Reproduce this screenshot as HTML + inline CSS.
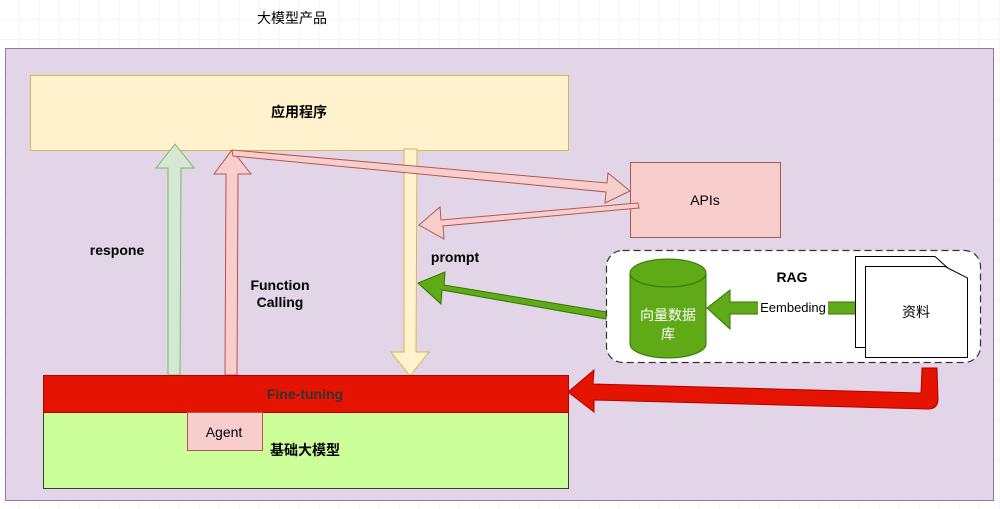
<!DOCTYPE html>
<html><head><meta charset="utf-8"><style>
body{margin:0;width:1000px;height:509px;overflow:hidden;background:#fff}
svg{display:block}
text{font-family:"Liberation Sans","Noto Sans CJK SC",sans-serif}
</style></head><body>
<svg width="1000" height="509" viewBox="0 0 1000 509">
<defs>
<pattern id="g" width="20" height="20" patternUnits="userSpaceOnUse"><path d="M20 0V20H0" fill="none" stroke="#eee" stroke-width="1"/></pattern>
</defs>
<rect width="1000" height="509" fill="url(#g)"/>
<text x="257" y="23" font-size="14">大模型产品</text>
<rect x="5.5" y="48.5" width="988" height="452" fill="#e1d5e7" stroke="#9673a6"/>
<rect x="30.5" y="75.5" width="538" height="75" fill="#fff2cc" stroke="#d6b656"/>
<text x="299" y="117" font-size="14" font-weight="bold" text-anchor="middle">应用程序</text>
<rect x="630.5" y="162.5" width="150" height="75" fill="#f8cecc" stroke="#b85450"/>
<text x="705" y="205" font-size="14" text-anchor="middle">APIs</text>
<polygon points="168,375 168,168 156,168 175,144 194,168 181,168 180,375" fill="#d5e8d4" stroke="#82b366"/>
<polygon points="225,375 226,174 214,174 232,150 251,174 238,174 237,375" fill="#f8cecc" stroke="#b85450"/>
<polygon points="404,149 417,149 416,352 429,352 410,376 391,352 404,352" fill="#fff2cc" stroke="#d6b656"/>
<polygon points="232,150 233,156 606,192 605,203 630,191 608,173 607,183" fill="#f8cecc" stroke="#b85450"/>
<polygon points="638,203 639,208 443,226 444,239 419,225 440,207 441,220" fill="#f8cecc" stroke="#b85450"/>
<polygon points="607,312 606,319 442,290 441,304 418,283 445,272 444,285" fill="#60a917" stroke="#2d7600"/>
<rect x="606.5" y="250.5" width="374" height="112" rx="16" fill="#fff" stroke="#333" stroke-dasharray="7,4" stroke-width="1.2"/>
<text x="792" y="282" font-size="14" font-weight="bold" text-anchor="middle">RAG</text>
<path d="M630,273 V344 A38,14 0 0 0 706,344 V273 A38,14 0 0 0 630,273 Z" fill="#60a917" stroke="#2d7600"/>
<path d="M630,273 A38,14 0 0 0 706,273" fill="none" stroke="#2d7600"/>
<text x="668" y="320" font-size="14" fill="#fff" text-anchor="middle">向量数据</text>
<text x="668" y="339" font-size="14" fill="#fff" text-anchor="middle">库</text>
<polygon points="856,302 856,314 730,314 730,329 707,308 730,290 730,302" fill="#60a917" stroke="#2d7600"/>
<rect x="758" y="299" width="70" height="16" fill="#fff"/>
<text x="793" y="312" font-size="13" text-anchor="middle">Eembeding</text>
<path d="M855.5,256.5 H935 L950,270 V347.5 H855.5 Z" fill="#fff" stroke="#000"/>
<path d="M865.5,266.5 H945 L967.5,278 V357.5 H865.5 Z" fill="#fff" stroke="#000"/>
<text x="916" y="317" font-size="14" text-anchor="middle">资料</text>
<path d="M922,368 L937,368 L938,399 Q938,409 928,409 L594,400 L594,412 L568,392 L594,370 L593,384 L921,393 Z" fill="#e51400" stroke="#b20000"/>
<rect x="43.5" y="412.5" width="525" height="76" fill="#ccff99" stroke="#36393d"/>
<rect x="43.5" y="375.5" width="525" height="37" fill="#e51400" stroke="#b20000"/>
<text x="305" y="399" font-size="14" font-weight="bold" fill="#333" text-anchor="middle">Fine-tuning</text>
<rect x="187.5" y="412.5" width="75" height="38" fill="#f8cecc" stroke="#b85450"/>
<text x="224" y="437" font-size="14" text-anchor="middle">Agent</text>
<text x="305" y="455" font-size="14" font-weight="bold" text-anchor="middle">基础大模型</text>
<text x="117" y="255" font-size="14" font-weight="bold" text-anchor="middle">respone</text>
<text x="280" y="290" font-size="14" font-weight="bold" text-anchor="middle">Function</text>
<text x="280" y="307" font-size="14" font-weight="bold" text-anchor="middle">Calling</text>
<text x="455" y="262" font-size="14" font-weight="bold" text-anchor="middle">prompt</text>
</svg>
</body></html>
